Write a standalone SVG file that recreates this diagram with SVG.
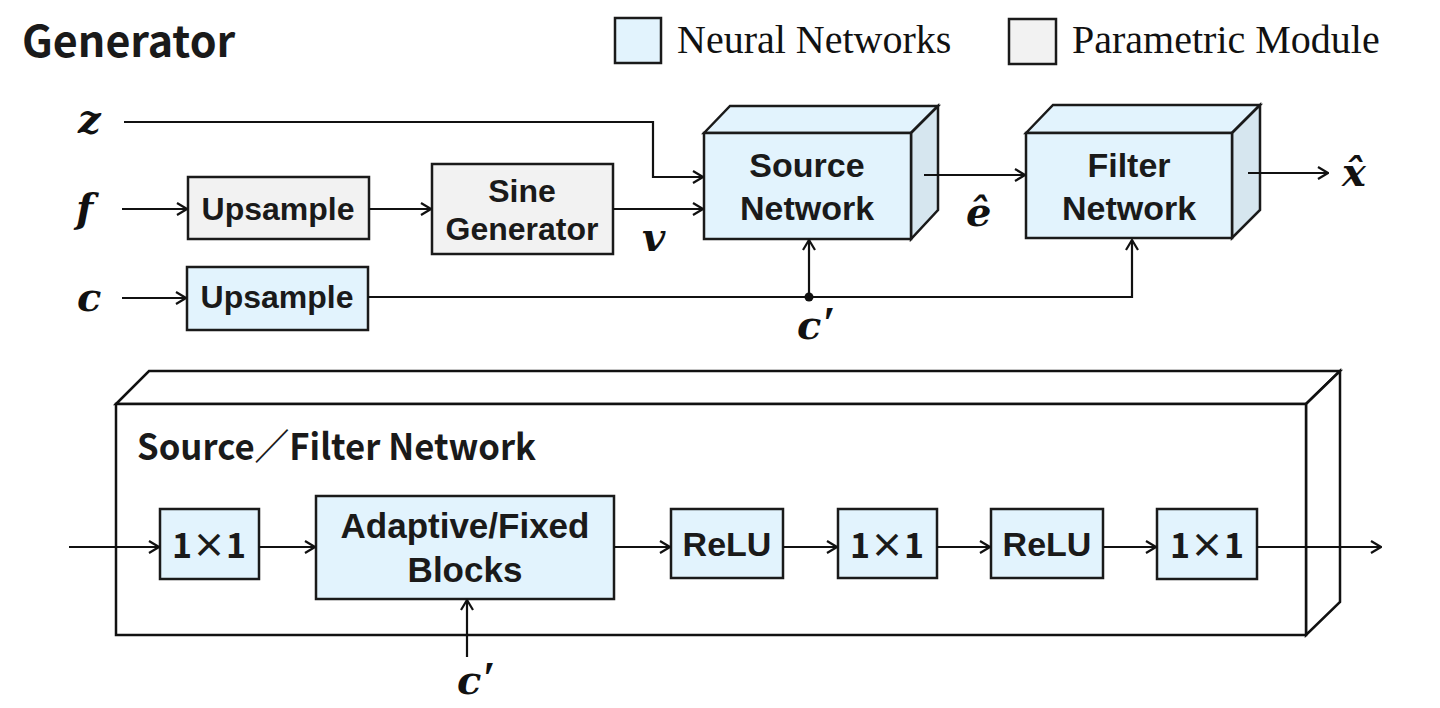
<svg xmlns="http://www.w3.org/2000/svg" width="1440" height="708" viewBox="0 0 1440 708">
<style>
.nn{fill:#e2f3fd;stroke:#1a1a1a;stroke-width:2.5}
.side{fill:#d6e6ef;stroke:#1a1a1a;stroke-width:2.5;stroke-linejoin:miter}
.pm{fill:#f2f2f2;stroke:#1a1a1a;stroke-width:2.5}
.out{fill:#fff;stroke:#111;stroke-width:2.5}
.lbl{font-family:"Liberation Sans",Arial,sans-serif;font-weight:bold;fill:#1a1a1a;text-anchor:middle}
.cjk{font-family:"Noto Sans CJK JP","Noto Sans",sans-serif;font-weight:bold;fill:#1a1a1a}
.math{font-family:"DejaVu Serif","Liberation Serif",serif;font-weight:bold;font-style:italic;fill:#111}
.pr{font-family:"Liberation Serif",serif;font-style:italic;font-weight:bold}
.leg{font-family:"Liberation Serif","Times New Roman",serif;font-size:40px;fill:#111}
.ln{fill:none;stroke:#111;stroke-width:2.2}
</style>
<defs>
<marker id="arr" viewBox="0 0 12 14" refX="11" refY="7" markerWidth="12" markerHeight="14" markerUnits="userSpaceOnUse" orient="auto">
<path d="M1,1 L11,7 L1,13" fill="none" stroke="#111" stroke-width="2.2"/>
</marker>
</defs>

<text x="22" y="57" class="cjk" font-size="43">Generator</text>

<g id="legend">
<rect x="615" y="18" width="46" height="45" class="nn" stroke-width="2"/>
<text x="677" y="53" class="leg">Neural Networks</text>
<rect x="1009" y="19" width="47" height="45" class="pm" stroke-width="2"/>
<text x="1072" y="53" class="leg">Parametric Module</text>
</g>

<g id="labels">
<text x="78" y="133" class="math" font-size="40">z</text>
<text x="76" y="222" class="math" font-size="40">f</text>
<text x="77" y="311" class="math" font-size="40">c</text>
<text x="642" y="251" class="math" font-size="40">v</text>
<text x="797" y="339" class="math" font-size="40">c<tspan class="pr" font-size="46" dx="1">′</tspan></text>
<text x="966" y="226" class="math" font-size="40">ê</text>
<text x="1342" y="186" class="math" font-size="40">x̂</text>
<text x="457" y="694" class="math" font-size="40">c<tspan class="pr" font-size="46" dx="1">′</tspan></text>
</g>

<g id="upsample1">
<rect x="188" y="177" width="181" height="62" class="pm"/>
<text x="278" y="220" class="lbl" font-size="32">Upsample</text>
</g>
<g id="sine">
<rect x="432" y="164" width="181" height="90" class="pm"/>
<text x="522" y="202" class="lbl" font-size="32">Sine</text>
<text x="522" y="240" class="lbl" font-size="32">Generator</text>
</g>
<g id="upsample2">
<rect x="187" y="267" width="181" height="63" class="nn"/>
<text x="277" y="308" class="lbl" font-size="32">Upsample</text>
</g>
<g id="source">
<polygon points="704,133 730,106 938,106 911,133" class="nn"/>
<polygon points="911,133 938,106 938,210 911,239" class="side"/>
<rect x="704" y="133" width="207" height="106" class="nn"/>
<text x="807" y="177" class="lbl" font-size="34">Source</text>
<text x="807" y="220" class="lbl" font-size="34">Network</text>
</g>
<g id="filter">
<polygon points="1026,133 1053,105 1260,105 1232,133" class="nn"/>
<polygon points="1232,133 1260,105 1260,210 1232,238" class="side"/>
<rect x="1026" y="133" width="206" height="105" class="nn"/>
<text x="1129" y="177" class="lbl" font-size="34">Filter</text>
<text x="1129" y="220" class="lbl" font-size="34">Network</text>
</g>

<g id="sfnet">
<polygon points="116,404 149,371 1340,371 1306,404" class="out"/>
<polygon points="1306,404 1340,371 1340,602 1306,635" class="out"/>
<rect x="116" y="404" width="1190" height="231" class="out"/>
<text x="137" y="460" class="cjk" font-size="36" textLength="399" lengthAdjust="spacingAndGlyphs">Source／Filter Network</text>
</g>
<g id="b1"><rect x="160" y="509" width="99" height="70" class="nn"/><text x="209" y="558" class="cjk" font-size="34" text-anchor="middle">1×1</text></g>
<g id="b2"><rect x="316" y="496" width="298" height="103" class="nn"/><text x="465" y="538" class="lbl" font-size="35">Adaptive/Fixed</text><text x="465" y="582" class="lbl" font-size="35">Blocks</text></g>
<g id="b3"><rect x="671" y="509" width="112" height="69" class="nn"/><text x="727" y="556" class="lbl" font-size="34">ReLU</text></g>
<g id="b4"><rect x="838" y="509" width="99" height="69" class="nn"/><text x="887" y="558" class="cjk" font-size="34" text-anchor="middle">1×1</text></g>
<g id="b5"><rect x="991" y="509" width="112" height="69" class="nn"/><text x="1047" y="556" class="lbl" font-size="34">ReLU</text></g>
<g id="b6"><rect x="1157" y="509" width="100" height="70" class="nn"/><text x="1207" y="558" class="cjk" font-size="34" text-anchor="middle">1×1</text></g>

<g id="connectors">
<path d="M124,122 H653 V177 H703" class="ln" marker-end="url(#arr)"/>
<path d="M122,209 H187" class="ln" marker-end="url(#arr)"/>
<path d="M369,209 H431" class="ln" marker-end="url(#arr)"/>
<path d="M613,209 H703" class="ln" marker-end="url(#arr)"/>
<path d="M122,298 H186" class="ln" marker-end="url(#arr)"/>
<path d="M368,297 H1132 V240" class="ln" marker-end="url(#arr)"/>
<path d="M809,297 V240" class="ln" marker-end="url(#arr)"/>
<circle cx="809" cy="297" r="4.5" fill="#111"/>
<path d="M924,175 H1025" class="ln" marker-end="url(#arr)"/>
<path d="M1248,173 H1328" class="ln" marker-end="url(#arr)"/>
<path d="M69,547 H159" class="ln" marker-end="url(#arr)"/>
<path d="M259,547 H315" class="ln" marker-end="url(#arr)"/>
<path d="M614,547 H670" class="ln" marker-end="url(#arr)"/>
<path d="M783,547 H837" class="ln" marker-end="url(#arr)"/>
<path d="M937,547 H990" class="ln" marker-end="url(#arr)"/>
<path d="M1103,547 H1156" class="ln" marker-end="url(#arr)"/>
<path d="M1257,547 H1381" class="ln" marker-end="url(#arr)"/>
<path d="M467,657 V600" class="ln" marker-end="url(#arr)"/>
</g>
</svg>
